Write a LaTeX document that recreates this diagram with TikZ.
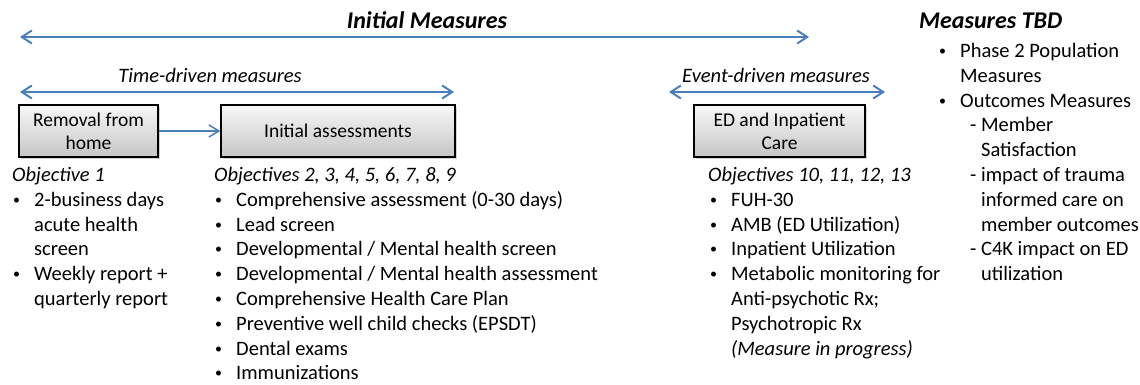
\documentclass[tikz,border=0pt]{standalone}
\usepackage{fontspec}
\usepackage{graphicx}
\setmainfont{Carlito}
\usetikzlibrary{arrows.meta,shadows}
\definecolor{lineblue}{HTML}{4A7EBB}
\newcommand{\bul}{\makebox[21pt][l]{\raisebox{2pt}{\fontsize{14}{14}\selectfont\textbullet}}}
\newcommand{\ind}{\hspace*{21pt}}
\newcommand{\subind}{\hspace*{10pt}}
\newcommand{\itemlines}[1]{\begin{tabular}[t]{@{}l@{}}#1\end{tabular}}

\begin{document}
\begin{tikzpicture}[x=1pt, y=-1pt,
    stagebox/.style={draw=black, line width=1.3pt, top color=gray!6, bottom color=gray!45,
        drop shadow={shadow xshift=1.5pt, shadow yshift=-1.5pt, opacity=0.35},
        minimum height=52pt, inner sep=2pt, align=center,
        font=\fontsize{19.5}{23}\selectfont},
    spanarrow/.style={draw=lineblue, line width=2pt,
        {Straight Barb[length=10pt,width=13pt]}-{Straight Barb[length=10pt,width=13pt]}},
    linkarrow/.style={draw=lineblue, line width=1.5pt, -{Straight Barb[length=10pt,width=12pt]}},
    heading/.style={inner sep=0pt, font=\fontsize{24}{28}\selectfont\bfseries\itshape},
    phaselabel/.style={inner sep=0pt, font=\fontsize{20.5}{22}\selectfont\itshape},
    objlist/.style={inner sep=0pt, anchor=base west,
        font=\fontsize{20.5}{24.8}\selectfont}
]
    \useasboundingbox (0,0) rectangle (1140,384);

    \node[heading, anchor=base] (initialmeasures) at (427,28) {Initial Measures};
    \node[heading, anchor=base west] (tbd) at (919,28) {Measures TBD};
    \coordinate (allL) at (20,37);
    \coordinate (allR) at (809,37);
    \draw[spanarrow] (allL) -- (allR);

    \node[phaselabel, anchor=base] (timedriven) at (210,82) {Time-driven measures};
    \node[phaselabel, anchor=base] (eventdriven) at (776,82) {Event-driven measures};
    \coordinate (timeL) at (20,92);
    \coordinate (timeR) at (454,92);
    \coordinate (eventL) at (669,92);
    \coordinate (eventR) at (885,92);
    \draw[spanarrow] (timeL) -- (timeR);
    \draw[spanarrow] (eventL) -- (eventR);

    \node[stagebox, minimum width=139pt] (removal) at (88.5,131) {Removal from\\home};
    \node[stagebox, minimum width=234pt] (initial) at (338,131) {Initial assessments};
    \node[stagebox, minimum width=171pt] (edcare) at (779.5,131) {ED and Inpatient\\Care};
    \draw[linkarrow] (removal) -- (initial);

    \node[phaselabel, anchor=base west] (obj1) at (12,181.5) {Objective 1};
    \node[phaselabel, anchor=base west] (obj2) at (214,181.5) {Objectives 2, 3, 4, 5, 6, 7, 8, 9};
    \node[phaselabel, anchor=base west] (obj3) at (708,181.5) {Objectives 10, 11, 12, 13};

    \node[objlist] (list1) at (13,206.3) {\itemlines{\bul 2-business days\\
        \ind acute health\\
        \ind screen\\
        \bul Weekly report +\\
        \ind quarterly report}};
    \node[objlist] (list2) at (215,206.3) {\itemlines{\bul Comprehensive assessment (0-30 days)\\
        \bul Lead screen\\
        \bul Developmental / Mental health screen\\
        \bul Developmental / Mental health assessment\\
        \bul Comprehensive Health Care Plan\\
        \bul Preventive well child checks (EPSDT)\\
        \bul Dental exams\\
        \bul Immunizations}};
    \node[objlist] (list3) at (710,206.3) {\itemlines{\bul FUH-30\\
        \bul AMB (ED Utilization)\\
        \bul Inpatient Utilization\\
        \bul Metabolic monitoring for\\
        \ind Anti-psychotic Rx;\\
        \ind Psychotropic Rx\\
        \ind\textit{(Measure in progress)}}};
    \node[objlist] (tbdlist) at (939,57.5) {\itemlines{\bul Phase 2 Population\\
        \ind Measures\\
        \bul Outcomes Measures\\
        \ind\subind - Member\\
        \ind\subind\phantom{- }Satisfaction\\
        \ind\subind - impact of trauma\\
        \ind\subind\phantom{- }informed care on\\
        \ind\subind\phantom{- }member outcomes\\
        \ind\subind - C4K impact on ED\\
        \ind\subind\phantom{- }utilization}};
\end{tikzpicture}
\end{document}
